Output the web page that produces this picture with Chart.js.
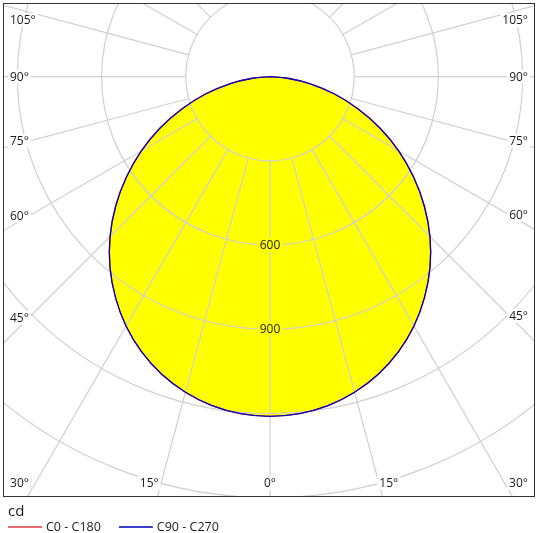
<!DOCTYPE html>
<html>
<head>
<meta charset="utf-8">
<script src="https://cdn.jsdelivr.net/npm/chart.js@4.4.1/dist/chart.umd.min.js"></script>
<style>
  html, body { margin: 0; padding: 0; background: #fff; }
  #wrap { position: relative; width: 540px; height: 533px; }
</style>
</head>
<body>
<div id="wrap"><canvas id="c"></canvas></div>
<script>
// ---- data ----
const ANGLES = [0, 5, 10, 15, 20, 25, 30, 35, 40, 45, 50, 55, 60, 65, 70, 75, 80, 85, 90];
const C0_C180 = [1210, 1205, 1190, 1164, 1128, 1082, 1026, 960, 887, 806, 718, 625, 530, 432, 333, 238, 146, 63, 0];
const C90_C270 = [1210, 1205, 1190, 1164, 1128, 1082, 1026, 960, 887, 806, 718, 625, 530, 432, 333, 238, 146, 63, 0];
const SERIES_NAMES = ['C0 - C180', 'C90 - C270'];
const RING_VALUES = [300, 600, 900, 1200, 1500, 1800, 2100];
const RING_LABELS = [600, 900];
const ANGLE_TICKS = [0, 15, 30, 45, 60, 75, 90, 105];
const SPOKE_STEP = 15;
const UNIT = 'cd';

// ---- layout / style constants ----
const BOX = { left: 3, top: 3, right: 535, bottom: 496 };
const CENTER = { x: 270, y: 76.7 };
const PX_PER_CD = 84.2 / 300;
const FONT = '"Open Sans", "DejaVu Sans", sans-serif';
const LABEL_FONT = '12px ' + FONT;

function curve(values) {
  const pts = [];
  for (let i = ANGLES.length - 1; i >= 0; i--) {          // left half (C180 / C270)
    const a = ANGLES[i] * Math.PI / 180;
    pts.push({ x: -values[i] * Math.sin(a), y: -values[i] * Math.cos(a) });
  }
  for (let i = 1; i < ANGLES.length; i++) {               // right half (C0 / C90)
    const a = ANGLES[i] * Math.PI / 180;
    pts.push({ x: values[i] * Math.sin(a), y: -values[i] * Math.cos(a) });
  }
  return pts;
}

function labelLayout(chart) {
  const ctx = chart.ctx;
  const xs = chart.scales.x, ys = chart.scales.y;
  const ca = chart.chartArea;
  const cx = xs.getPixelForValue(0), cy = ys.getPixelForValue(0);
  const out = [];
  ctx.save();
  ctx.font = LABEL_FONT;
  for (const th of ANGLE_TICKS) {
    const sides = th === 0 ? [0] : [-1, 1];
    for (const s of sides) {
      const a = th * Math.PI / 180;
      const dx = s * Math.sin(a), dy = Math.cos(a);
      const text = th + '°';
      const w = ctx.measureText(text).width;
      let tSide = Infinity, tBot = Infinity;
      if (Math.abs(dx) > 1e-9) tSide = (s > 0 ? ca.right - cx : cx - ca.left) / Math.abs(dx);
      if (dy > 1e-9) tBot = (ca.bottom - cy) / dy;
      if (tSide < tBot) {
        const yHit = cy + dy * tSide;
        if (yHit < ca.top) continue;
        const inner = (s > 0 ? (ca.right - 26) - cx : cx - (ca.left + 26)) / Math.abs(dx);
        let y = cy + dy * inner;
        y = Math.max(y, ca.top + 17);
        const x0 = s < 0 ? ca.left + 7 : ca.right - 7 - w;
        out.push({ text, x: x0, y, w });
      } else if (tBot < Infinity) {
        const xc = cx + dx * tBot;
        const y = ca.bottom - 13;
        let x0;
        if (s === 0) x0 = cx - w / 2;
        else if (s < 0) x0 = xc + 1 - w;
        else x0 = xc - 3;
        out.push({ text, x: x0, y, w });
      }
    }
  }
  for (const v of RING_LABELS) {
    const text = String(v);
    const w = ctx.measureText(text).width;
    const y = ys.getPixelForValue(-v);
    out.push({ text, x: cx - w / 2, y, w });
  }
  ctx.restore();
  return out;
}

const polarPlugin = {
  id: 'polarGrid',
  beforeDatasetsDraw(chart) {
    const ctx = chart.ctx;
    const xs = chart.scales.x, ys = chart.scales.y;
    const ca = chart.chartArea;
    const cx = xs.getPixelForValue(0), cy = ys.getPixelForValue(0);
    // yellow fill of the C90-C270 curve, using the library's own line path
    const meta = chart.getDatasetMeta(1);
    ctx.save();
    ctx.beginPath();
    ctx.rect(ca.left, ca.top, ca.right - ca.left, ca.bottom - ca.top);
    ctx.clip();
    ctx.beginPath();
    let ok = false;
    try { meta.dataset.path(ctx); ok = true; } catch (e) { ok = false; }
    if (!ok) {
      ctx.beginPath();
      meta.data.forEach((p, i) => { if (i === 0) ctx.moveTo(p.x, p.y); else ctx.lineTo(p.x, p.y); });
    }
    ctx.closePath();
    ctx.fillStyle = chart.data.datasets[1].backgroundColor;
    ctx.fill();
    ctx.restore();

    // grid with gaps behind labels
    const labels = labelLayout(chart);
    ctx.save();
    ctx.beginPath();
    ctx.rect(ca.left, ca.top, ca.right - ca.left, ca.bottom - ca.top);
    for (const l of labels) ctx.rect(l.x - 2, l.y - 7, l.w + 4, 14);
    ctx.clip('evenodd');
    ctx.strokeStyle = '#d0d0d0';
    ctx.lineWidth = 1.2;
    for (const v of RING_VALUES) {
      const r = xs.getPixelForValue(v) - cx;
      ctx.beginPath();
      ctx.arc(cx, cy, r, 0, Math.PI * 2);
      ctx.stroke();
    }
    const inner = RING_VALUES[0], outer = 4000;
    for (let d = 0; d < 360; d += SPOKE_STEP) {
      const a = d * Math.PI / 180;
      ctx.beginPath();
      ctx.moveTo(xs.getPixelForValue(inner * Math.sin(a)), ys.getPixelForValue(-inner * Math.cos(a)));
      ctx.lineTo(xs.getPixelForValue(outer * Math.sin(a)), ys.getPixelForValue(-outer * Math.cos(a)));
      ctx.stroke();
    }
    ctx.restore();
  },
  afterDatasetsDraw(chart) {
    const ctx = chart.ctx;
    const ca = chart.chartArea;
    const labels = labelLayout(chart);
    ctx.save();
    ctx.font = LABEL_FONT;
    ctx.fillStyle = '#1a1a1a';
    ctx.textBaseline = 'middle';
    ctx.textAlign = 'left';
    for (const l of labels) ctx.fillText(l.text, l.x, l.y + 0.5);
    // frame
    ctx.strokeStyle = '#333';
    ctx.lineWidth = 1;
    ctx.strokeRect(ca.left + 0.5, ca.top + 0.5, ca.right - ca.left - 1, ca.bottom - ca.top);
    // legend
    ctx.font = '15px ' + FONT;
    ctx.fillText(UNIT, 8, 512);
    ctx.font = '12.5px ' + FONT;
    let x = 8;
    const y = 527;
    chart.data.datasets.forEach(ds => {
      ctx.strokeStyle = ds.borderColor;
      ctx.lineWidth = 1.3;
      ctx.beginPath();
      ctx.moveTo(x, y);
      ctx.lineTo(x + 34, y);
      ctx.stroke();
      ctx.fillStyle = '#1a1a1a';
      ctx.fillText(ds.label, x + 38, y);
      x += 38 + ctx.measureText(ds.label).width + 18;
    });
    ctx.restore();
  }
};

new Chart(document.getElementById('c'), {
  type: 'scatter',
  data: {
    datasets: [
      { label: SERIES_NAMES[0], data: curve(C0_C180), showLine: true, borderColor: '#e03c3c',
        borderWidth: 1.3, pointRadius: 0, tension: 0.4, fill: false, order: 2 },
      { label: SERIES_NAMES[1], data: curve(C90_C270), showLine: true, borderColor: '#0000c0',
        backgroundColor: '#ffff00', borderWidth: 1.3, pointRadius: 0, tension: 0.4, fill: false, order: 1 }
    ]
  },
  options: {
    responsive: true,
    maintainAspectRatio: false,
    animation: false,
    layout: { padding: { left: BOX.left, top: BOX.top, right: 540 - BOX.right, bottom: 533 - BOX.bottom } },
    scales: {
      x: { type: 'linear', display: false,
           min: -(CENTER.x - BOX.left) / PX_PER_CD, max: (BOX.right - CENTER.x) / PX_PER_CD },
      y: { type: 'linear', display: false,
           min: -(BOX.bottom - CENTER.y) / PX_PER_CD, max: (CENTER.y - BOX.top) / PX_PER_CD }
    },
    plugins: { legend: { display: false }, tooltip: { enabled: false } }
  },
  plugins: [polarPlugin]
});
</script>
</body>
</html>
